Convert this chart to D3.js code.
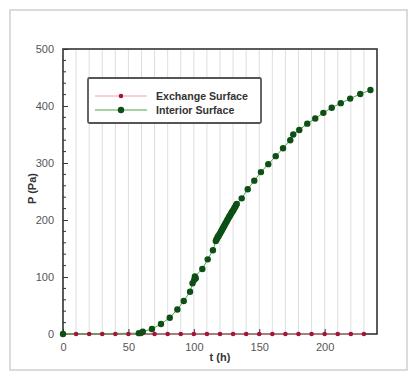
<!DOCTYPE html>
<html><head><meta charset="utf-8">
<script src="https://cdn.jsdelivr.net/npm/d3@7"></script>
<style>html,body{margin:0;padding:0;background:#fff;}svg{display:block;}</style>
</head><body>
<script>
// ---- data ----
const seriesNames = ["Exchange Surface", "Interior Surface"];
const tExchange = [0,10,20,30,40,50,60,70,80,90,100,110,120,130,140,150,160,170,180,190,200,210,220,230];
const pExchange = [0,0,0,0,0,0,0,0,0,0,0,0,0,0,0,0,0,0,0,0,0,0,0,0];
const tInterior = [0,58,61,68,74.9,81.6,87.4,92.3,97.1,99,100.3,101.5,100.8,106.5,110.6,114.6,
  116.8,117.3,117.9,118.4,119.0,119.6,120.2,120.8,121.4,122.0,122.6,123.2,123.8,124.4,125.0,125.6,126.2,126.8,127.4,128.0,128.6,129.2,129.8,130.4,131.0,131.6,132.2,132.8,
  136.6,141.2,146.2,151.3,156.9,162.6,168.2,173.7,176,180.6,186.7,192.8,199,205.4,212.3,219.5,227.2,235];
const pInterior = [0,1.5,4,8.8,17.5,28.6,43,57.9,74.2,89,95,98,101,114,131,147,
  163,166,168,171,172,175,177,180,182,185,187,190,192,195,197,200,202,205,207,209,212,214,216,218,221,223,226,228,
  238,254,269,284,298,312,326,340,350,358,369,378,388,397,405,413,421,428];
const xTicks = [0,50,100,150,200];
const yTicks = [0,100,200,300,400,500];
const xDomain = [0,240];
const yDomain = [0,500];

// ---- layout ----
const W = 417, H = 374;
const L = 63, R = 377, T = 49, B = 334;
const svg = d3.select("body").append("svg").attr("width", W).attr("height", H);
const font = "Arial, 'Liberation Sans', sans-serif";

svg.append("rect").attr("x",10).attr("y",10).attr("width",397).attr("height",360)
  .attr("fill","#fff").attr("stroke","#cfcfcf").attr("stroke-width",1.5);

const x = d3.scaleLinear().domain(xDomain).range([L, R]);
const y = d3.scaleLinear().domain(yDomain).range([B, T]);

// vertical gridlines every 10
svg.append("g").selectAll("line").data(d3.range(10, 240, 10)).join("line")
  .attr("x1", d => x(d)).attr("x2", d => x(d)).attr("y1", T).attr("y2", B)
  .attr("stroke", "#dedede").attr("stroke-width", 1);

// axes
const yAxis = d3.axisLeft(y).tickValues(yTicks).tickSize(-5).tickPadding(9).tickFormat(d3.format("d"));
const gy = svg.append("g").attr("transform", `translate(${L},0)`).call(yAxis);
const xAxis = d3.axisBottom(x).tickValues(xTicks).tickSize(-5).tickPadding(9).tickFormat(d3.format("d"));
const gx = svg.append("g").attr("transform", `translate(0,${B})`).call(xAxis);
[gx, gy].forEach(g => {
  g.select(".domain").remove();
  g.selectAll("line").attr("stroke", "#333").attr("stroke-width", 1);
  g.selectAll("text").attr("font-family", font).attr("font-size", 11).attr("fill", "#555");
});
// minor y ticks
svg.append("g").selectAll("line").data(d3.range(20, 500, 20).filter(d => d % 100 !== 0)).join("line")
  .attr("x1", L).attr("x2", L + 3).attr("y1", d => y(d)).attr("y2", d => y(d))
  .attr("stroke", "#333").attr("stroke-width", 1);

// frame
svg.append("rect").attr("x", L).attr("y", T).attr("width", R - L).attr("height", B - T)
  .attr("fill", "none").attr("stroke", "#333").attr("stroke-width", 1.6);

// lines
const exData = tExchange.map((t, i) => [t, pExchange[i]]);
const inData = tInterior.map((t, i) => [t, pInterior[i]]);
const line = d3.line().x(d => x(d[0])).y(d => y(d[1]));
svg.append("path").datum(exData).attr("d", line).attr("fill", "none").attr("stroke", "#f2a0a8").attr("stroke-width", 1);
svg.append("path").datum(inData).attr("d", line).attr("fill", "none").attr("stroke", "#4aa84a").attr("stroke-width", 1);

// markers
svg.append("g").selectAll("circle").data(exData).join("circle")
  .attr("cx", d => x(d[0])).attr("cy", d => y(d[1])).attr("r", 2.3).attr("fill", "#a31538");
svg.append("g").selectAll("circle").data(inData).join("circle")
  .attr("cx", d => x(d[0])).attr("cy", d => y(d[1])).attr("r", 3.2).attr("fill", "#0d4f14");

// axis titles
svg.append("text").attr("x", (L + R) / 2).attr("y", 361).attr("text-anchor", "middle")
  .attr("font-family", font).attr("font-size", 11).attr("font-weight", "bold").attr("fill", "#333").text("t (h)");
svg.append("text").attr("transform", `translate(36,${(T + B) / 2 - 3}) rotate(-90)`).attr("text-anchor", "middle")
  .attr("font-family", font).attr("font-size", 11).attr("font-weight", "bold").attr("fill", "#333").text("P (Pa)");

// legend
const lg = svg.append("g");
lg.append("rect").attr("x", 88).attr("y", 78).attr("width", 173).attr("height", 45).attr("rx", 1.5)
  .attr("fill", "#fff").attr("stroke", "#555").attr("stroke-width", 1.8);
const legendItems = [
  {name: seriesNames[0], line: "#f2a0a8", dot: "#a31538", r: 2.3},
  {name: seriesNames[1], line: "#4aa84a", dot: "#0d4f14", r: 3.2}
];
legendItems.forEach((it, i) => {
  const yy = 96 + i * 14;
  lg.append("line").attr("x1", 95).attr("x2", 147).attr("y1", yy).attr("y2", yy).attr("stroke", it.line).attr("stroke-width", 1);
  lg.append("circle").attr("cx", 121).attr("cy", yy).attr("r", it.r).attr("fill", it.dot);
  lg.append("text").attr("x", 156).attr("y", yy + 3.5).attr("font-family", font).attr("font-size", 10.6)
    .attr("font-weight", "bold").attr("fill", "#333").text(it.name);
});
</script>
</body></html>
